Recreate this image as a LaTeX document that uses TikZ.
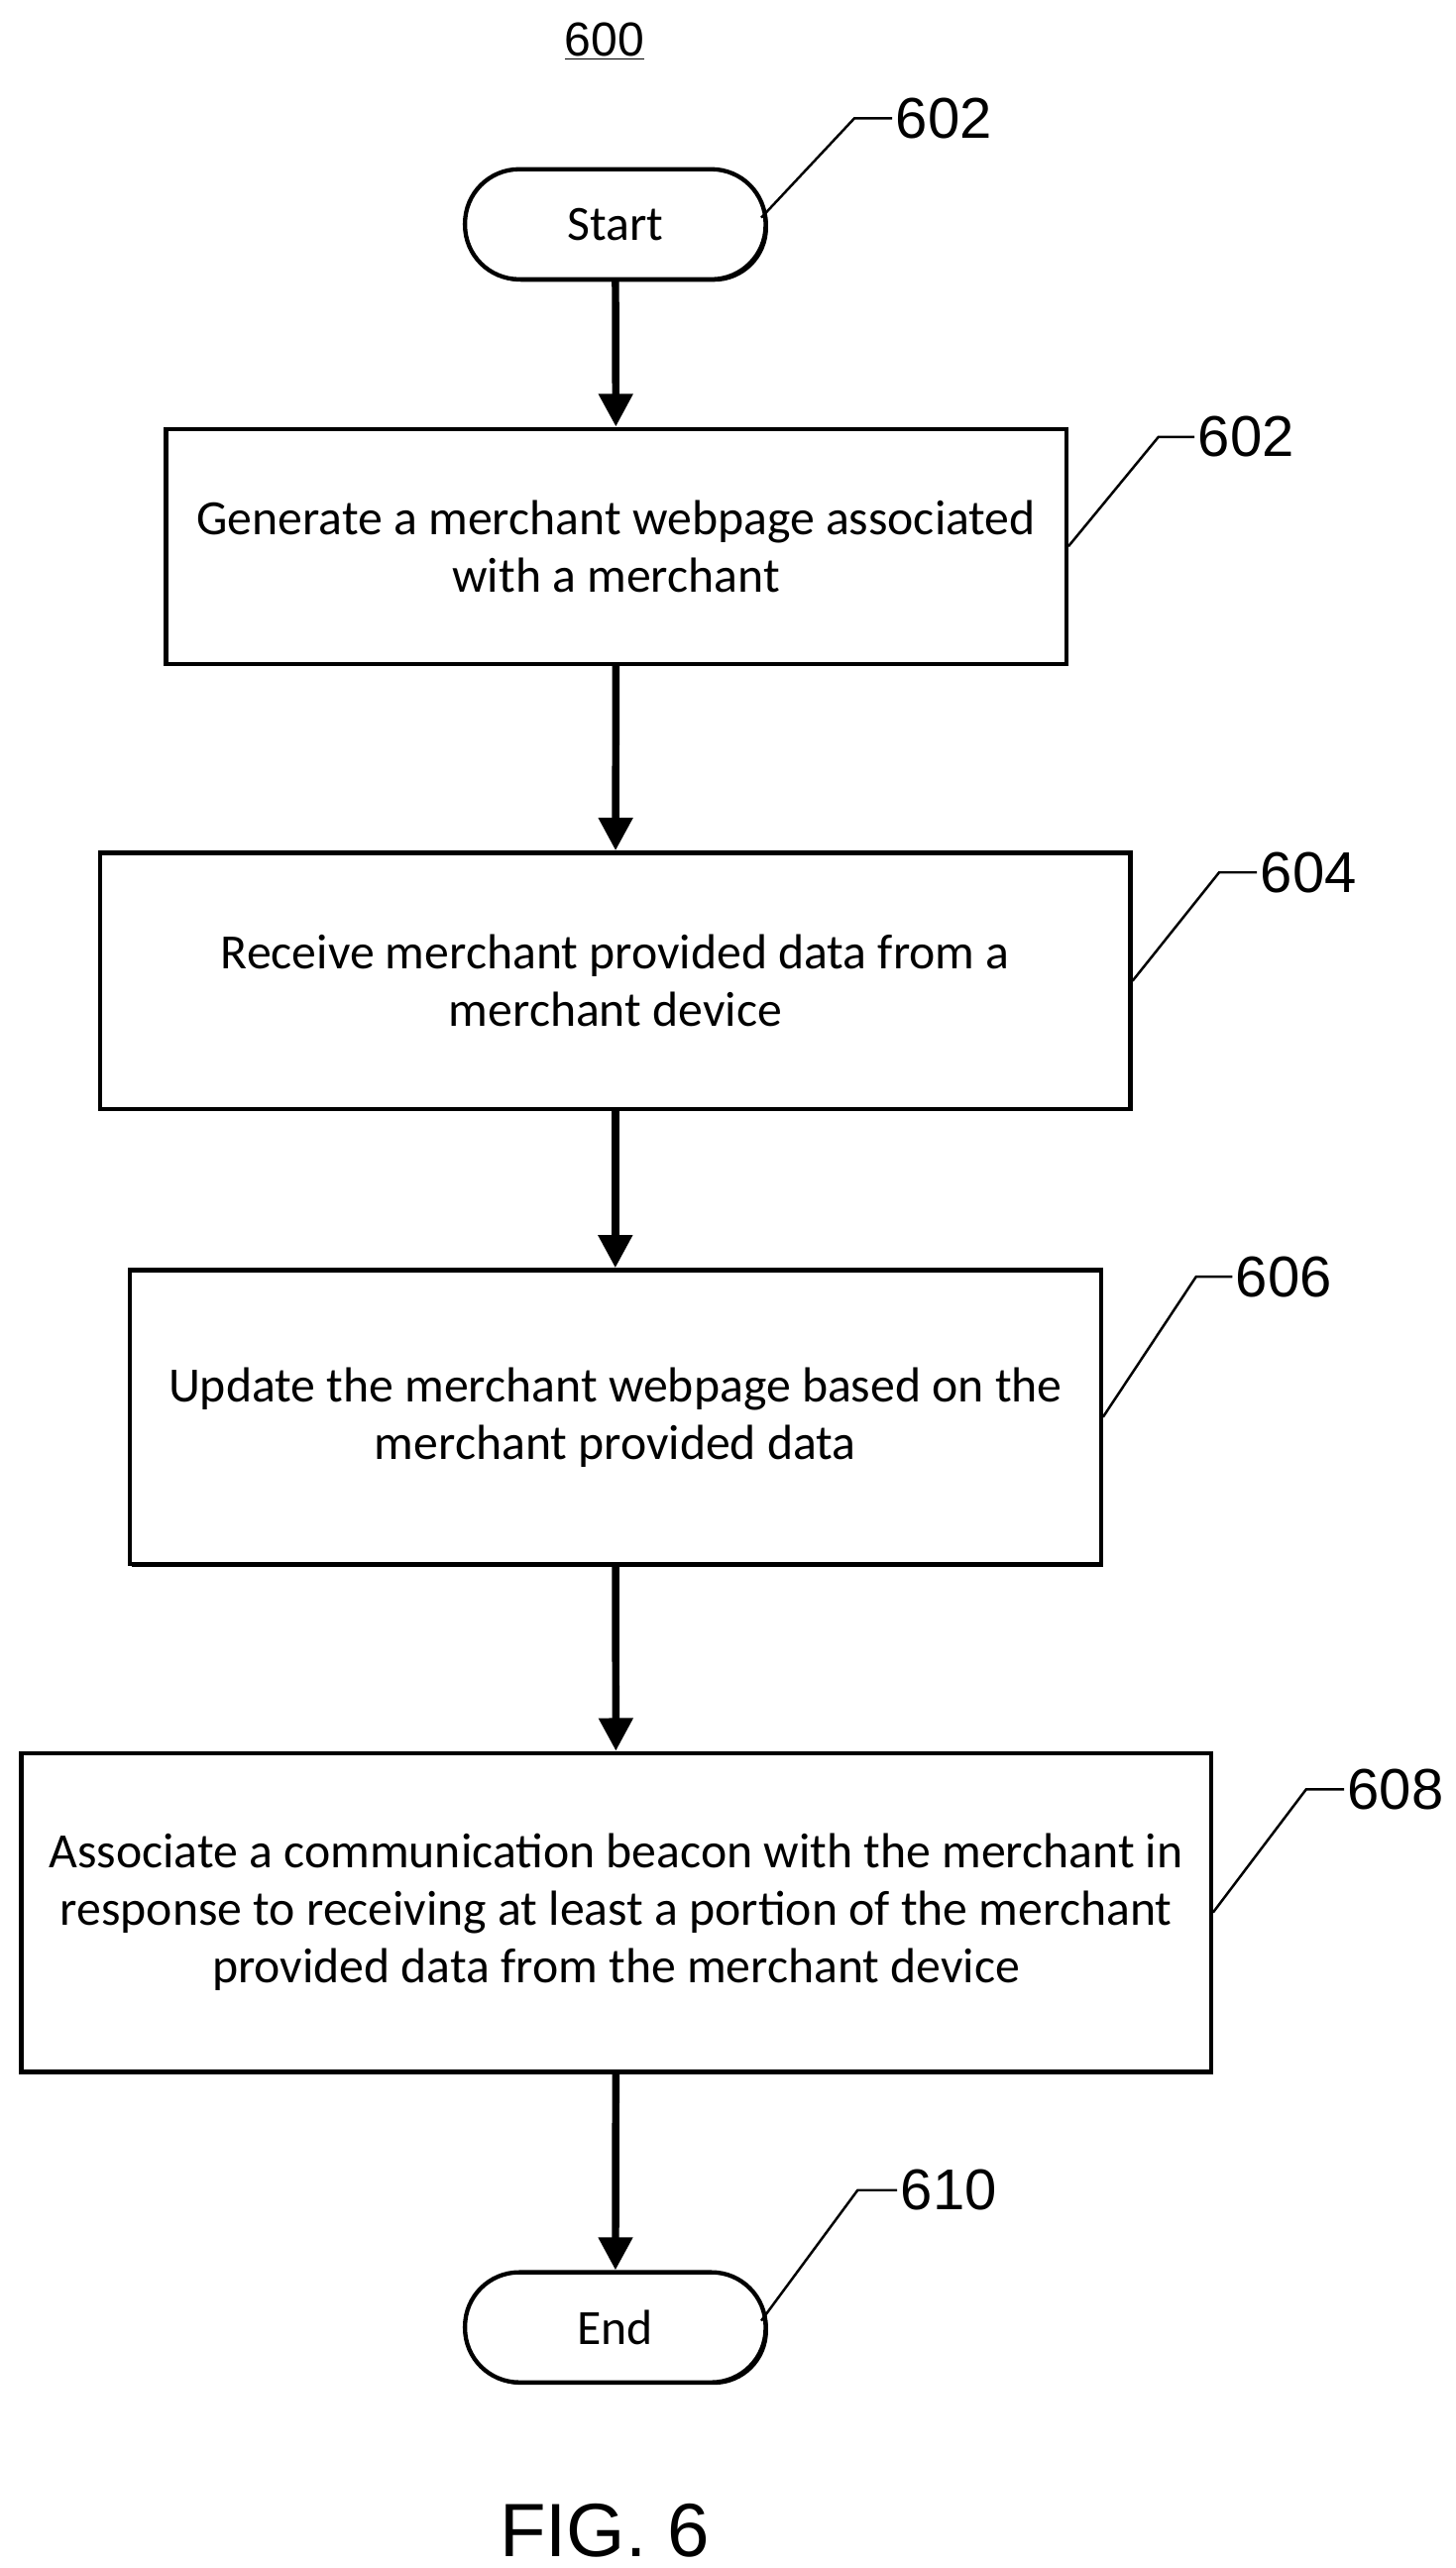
\documentclass[tikz,border=0pt]{standalone}
\usepackage{fontspec}
\setmainfont{Carlito}
\newfontfamily\arialf{Liberation Sans}
\usetikzlibrary{arrows.meta,shadows}
\begin{document}
\begin{tikzpicture}[x=1pt,y=-1pt,
  box/.style={draw,line width=2.6pt,fill=white,align=center,font=\fontsize{30}{35}\selectfont,inner sep=0pt,
    drop shadow={shadow xshift=1.5pt,shadow yshift=-1.5pt,fill=black,opacity=1}},
  term/.style={box,rounded corners=33pt},
  arr/.style={line width=4.5pt,-{Triangle[length=20pt,width=20pt]}},
  lead/.style={line width=1.5pt},
  num/.style={font=\arialf\fontsize{35}{36}\selectfont,anchor=west,inner sep=2pt}]
\useasboundingbox (0,0) rectangle (886,1563);
\node[font=\arialf\fontsize{29}{30}\selectfont] (t600) at (368,25) {\underline{600}};
\node[term,minimum width=183pt,minimum height=67pt] (s) at (374.5,136.5) {Start};
\node[box,minimum width=548pt,minimum height=143pt] (b1) at (375,332.5) {Generate a merchant webpage associated\\with a merchant};
\node[box,minimum width=627pt,minimum height=156pt] (b2) at (374.5,597) {Receive merchant provided data from a\\merchant device};
\node[box,minimum width=591pt,minimum height=179pt] (b3) at (374.5,862.5) {Update the merchant webpage based on the\\merchant provided data};
\node[box,minimum width=724pt,minimum height=194pt] (b4) at (375,1164) {Associate a communication beacon with the merchant in\\response to receiving at least a portion of the merchant\\provided data from the merchant device};
\node[term,minimum width=183pt,minimum height=67pt] (e) at (374.5,1416.5) {End};
\draw[arr] (s) -- (b1);
\draw[arr] (b1) -- (b2);
\draw[arr] (b2) -- (b3);
\draw[arr] (b3) -- (b4);
\draw[arr] (b4) -- (e);
\node[num] (n1) at (543,72) {602};
\node[num] (n2) at (727,266) {602};
\node[num] (n3) at (765,531) {604};
\node[num] (n4) at (750,777) {606};
\node[num] (n5) at (818,1089) {608};
\node[num] (n6) at (546,1333) {610};
\draw[lead] (s.east) ++(-4,-4) -- (520,72) -- (n1.west);
\draw[lead] (b1.east) -- (705,266) -- (n2.west);
\draw[lead] (b2.east) -- (742,531) -- (n3.west);
\draw[lead] (b3.east) -- (728,777) -- (n4.west);
\draw[lead] (b4.east) -- (795,1089) -- (n5.west);
\draw[lead] (e.east) ++(-4,-4) -- (522,1333) -- (n6.west);
\node[font=\arialf\fontsize{46}{48}\selectfont] (fig) at (368,1540) {FIG. 6};
\end{tikzpicture}
\end{document}
